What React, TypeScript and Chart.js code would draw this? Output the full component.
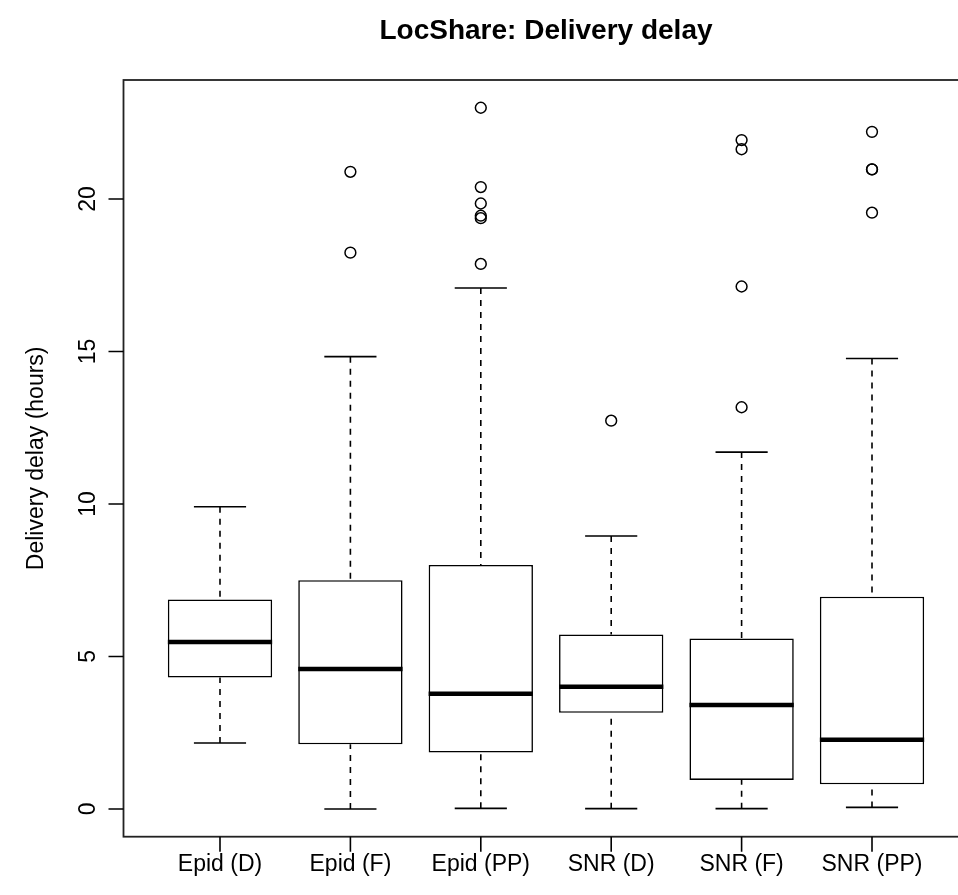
import React, { useEffect, useRef } from "react";
import { Chart, registerables } from "chart.js";
Chart.register(...registerables);

const chartTitle = "LocShare: Delivery delay";
const yAxisTitle = "Delivery delay (hours)";
const categories = ["Epid (D)", "Epid (F)", "Epid (PP)", "SNR (D)", "SNR (F)", "SNR (PP)"];
const whiskerLow = [2.16, 0.0, 0.02, 0.01, 0.01, 0.05];
const q1 = [4.31, 2.12, 1.85, 3.15, 0.95, 0.81];
const median = [5.475, 4.59, 3.78, 4.01, 3.41, 2.27];
const q3 = [6.87, 7.5, 8.0, 5.72, 5.59, 6.96];
const whiskerHigh = [9.91, 14.83, 17.08, 8.95, 11.7, 14.77];
const outliers: number[][] = [
  [],
  [20.89, 18.24],
  [22.99, 20.39, 19.85, 19.45, 19.37, 17.87],
  [12.73],
  [21.93, 21.63, 17.13, 13.17],
  [22.2, 20.97, 20.97, 19.55],
];
const yTicks = [0, 5, 10, 15, 20];

const FONT = '"Liberation Sans", Arial, Helvetica, sans-serif';

export default function App() {
  const ref = useRef<HTMLCanvasElement>(null);
  useEffect(() => {
    document.body.style.margin = "0";
    const canvas = ref.current!;
    const extras = {
      id: "boxExtras",
      afterDatasetsDraw(chart: any) {
        const { ctx, chartArea: a, scales } = chart;
        const x = scales.x;
        const y = scales.y;
        ctx.save();
        ctx.strokeStyle = "#000";
        ctx.lineCap = "butt";
        categories.forEach((_, i) => {
          const cx = x.getPixelForValue(i + 1);
          const capL = x.getPixelForValue(i + 1 - 0.2);
          const capR = x.getPixelForValue(i + 1 + 0.2);
          const boxL = x.getPixelForValue(i + 1 - 0.4);
          const boxR = x.getPixelForValue(i + 1 + 0.4);
          ctx.lineWidth = 1.6;
          ctx.setLineDash([6, 6]);
          ctx.beginPath();
          ctx.moveTo(cx, y.getPixelForValue(whiskerHigh[i]));
          ctx.lineTo(cx, y.getPixelForValue(q3[i]));
          ctx.moveTo(cx, y.getPixelForValue(whiskerLow[i]));
          ctx.lineTo(cx, y.getPixelForValue(q1[i]));
          ctx.stroke();
          ctx.setLineDash([]);
          ctx.beginPath();
          ctx.moveTo(capL, y.getPixelForValue(whiskerHigh[i]));
          ctx.lineTo(capR, y.getPixelForValue(whiskerHigh[i]));
          ctx.moveTo(capL, y.getPixelForValue(whiskerLow[i]));
          ctx.lineTo(capR, y.getPixelForValue(whiskerLow[i]));
          ctx.stroke();
          ctx.lineWidth = 4.5;
          ctx.beginPath();
          ctx.moveTo(boxL, y.getPixelForValue(median[i]));
          ctx.lineTo(boxR, y.getPixelForValue(median[i]));
          ctx.stroke();
        });
        ctx.lineWidth = 1.8;
        ctx.strokeStyle = "#222";
        ctx.strokeRect(a.left, a.top, a.right - a.left, a.bottom - a.top);
        ctx.strokeStyle = "#000";
        ctx.lineWidth = 1.6;
        ctx.beginPath();
        yTicks.forEach((t) => {
          const py = y.getPixelForValue(t);
          ctx.moveTo(a.left - 15, py);
          ctx.lineTo(a.left, py);
        });
        categories.forEach((_, i) => {
          const px = x.getPixelForValue(i + 1);
          ctx.moveTo(px, a.bottom);
          ctx.lineTo(px, a.bottom + 15);
        });
        ctx.stroke();
        ctx.fillStyle = "#000";
        ctx.font = `23px ${FONT}`;
        ctx.textAlign = "center";
        ctx.textBaseline = "middle";
        categories.forEach((c, i) => {
          ctx.fillText(c, x.getPixelForValue(i + 1), a.bottom + 28);
        });
        yTicks.forEach((t) => {
          ctx.save();
          ctx.translate(a.left - 35, y.getPixelForValue(t));
          ctx.rotate(-Math.PI / 2);
          ctx.fillText(String(t), 0, 0);
          ctx.restore();
        });
        ctx.save();
        ctx.translate(37, (a.top + a.bottom) / 2);
        ctx.rotate(-Math.PI / 2);
        ctx.fillText(yAxisTitle, 0, 0);
        ctx.restore();
        ctx.font = `bold 28px ${FONT}`;
        ctx.fillText(chartTitle, (a.left + a.right) / 2, 31);
        ctx.restore();
      },
    };

    const chart = new Chart(canvas, {
      type: "bar",
      data: {
        datasets: [
          {
            type: "bar",
            data: categories.map((_, i) => ({ x: i + 1, y: [q1[i], q3[i]] })),
            backgroundColor: "#fff",
            borderColor: "#000",
            borderWidth: 1.6,
            borderSkipped: false,
            barPercentage: 0.8,
            categoryPercentage: 1,
            order: 2,
          } as any,
          {
            type: "scatter",
            data: outliers.flatMap((vals, i) => vals.map((v) => ({ x: i + 1, y: v }))),
            pointStyle: "circle",
            pointRadius: 5.4,
            pointBorderWidth: 1.5,
            borderColor: "#000",
            backgroundColor: "rgba(0,0,0,0)",
            showLine: false,
            order: 1,
          } as any,
        ],
      },
      options: {
        responsive: false,
        animation: false,
        devicePixelRatio: 1,
        layout: { padding: { left: 123.5, right: 11.5, top: 80, bottom: 58.3 } },
        plugins: { legend: { display: false }, tooltip: { enabled: false }, title: { display: false } },
        scales: {
          x: {
            type: "linear",
            min: 0.26,
            max: 6.74,
            offset: false,
            display: false,
            afterBuildTicks: (scale: any) => {
              scale.ticks = categories.map((_, i) => ({ value: i + 1 }));
            },
          },
          y: { type: "linear", min: -0.91, max: 23.9, display: false },
        },
      },
      plugins: [extras],
    } as any);
    return () => chart.destroy();
  }, []);
  return (
    <div style={{ width: 958, height: 895, overflow: "hidden", position: "relative", background: "#fff" }}>
      <canvas ref={ref} width={980} height={895} style={{ display: "block" }} />
    </div>
  );
}
